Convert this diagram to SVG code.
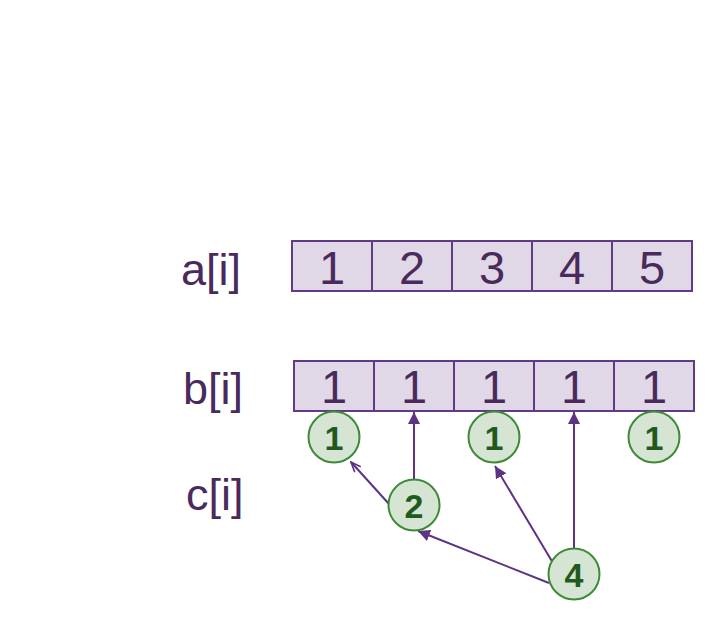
<svg xmlns="http://www.w3.org/2000/svg" width="714" height="620" viewBox="0 0 714 620">
<style>
.cell{fill:#e0d7e7;stroke:#633a86;stroke-width:2}
.lbl{font-family:"Liberation Sans",Arial,sans-serif;font-size:45px;fill:#4a2a5c}
.num{font-family:"Liberation Sans",Arial,sans-serif;font-size:47px;fill:#4a2a5c;text-anchor:middle}
.circ{fill:#d6e4d4;stroke:#3e8a36;stroke-width:2}
.cnum{font-family:"Liberation Sans",Arial,sans-serif;font-size:34px;font-weight:bold;fill:#1f5a1f;text-anchor:middle}
.edge{stroke:#5e3284;stroke-width:2;fill:none}
</style>
<defs>
<marker id="fill" viewBox="0 0 12 12" refX="12" refY="6" markerWidth="12" markerHeight="12" markerUnits="userSpaceOnUse" orient="auto">
<path d="M0,0 L12,6 L0,12 Z" fill="#5e3284"/>
</marker>
<marker id="open" viewBox="0 0 12 10" refX="11" refY="5" markerWidth="12" markerHeight="10" markerUnits="userSpaceOnUse" orient="auto">
<path d="M1,1 L11,5 L1,9" fill="none" stroke="#5e3284" stroke-width="1.6"/>
</marker>
</defs>
<rect width="714" height="620" fill="#ffffff"/>
<g id="labels">
<text class="lbl" x="181" y="285">a[i]</text>
<text class="lbl" x="183" y="404">b[i]</text>
<text class="lbl" x="186" y="510">c[i]</text>
</g>
<g id="array-a">
<rect class="cell" x="292" y="241" width="80" height="50"/>
<rect class="cell" x="372" y="241" width="80" height="50"/>
<rect class="cell" x="452" y="241" width="80" height="50"/>
<rect class="cell" x="532" y="241" width="80" height="50"/>
<rect class="cell" x="612" y="241" width="80" height="50"/>
<text class="num" x="332" y="284">1</text>
<text class="num" x="412" y="284">2</text>
<text class="num" x="492" y="284">3</text>
<text class="num" x="572" y="284">4</text>
<text class="num" x="652" y="284">5</text>
</g>
<g id="array-b">
<rect class="cell" x="294" y="361" width="80" height="50"/>
<rect class="cell" x="374" y="361" width="80" height="50"/>
<rect class="cell" x="454" y="361" width="80" height="50"/>
<rect class="cell" x="534" y="361" width="80" height="50"/>
<rect class="cell" x="614" y="361" width="80" height="50"/>
<text class="num" x="334" y="403">1</text>
<text class="num" x="414" y="403">1</text>
<text class="num" x="494" y="403">1</text>
<text class="num" x="574" y="403">1</text>
<text class="num" x="654" y="403">1</text>
</g>
<g id="connectors">
<line class="edge" x1="414" y1="480" x2="414" y2="412" marker-end="url(#fill)"/>
<line class="edge" x1="574" y1="549" x2="574" y2="412" marker-end="url(#fill)"/>
<line class="edge" x1="389" y1="504" x2="351" y2="462" marker-end="url(#open)"/>
<line class="edge" x1="553" y1="563" x2="495" y2="466" marker-end="url(#fill)"/>
<line class="edge" x1="549" y1="583" x2="418" y2="531" marker-end="url(#fill)"/>
</g>
<g id="c1"><circle class="circ" cx="334" cy="437" r="25.5"/><text class="cnum" x="334" y="450">1</text></g>
<g id="c3"><circle class="circ" cx="494" cy="437" r="25.5"/><text class="cnum" x="494" y="450">1</text></g>
<g id="c5"><circle class="circ" cx="654" cy="437" r="25.5"/><text class="cnum" x="654" y="450">1</text></g>
<g id="c2"><circle class="circ" cx="414" cy="505" r="25.5"/><text class="cnum" x="414" y="518">2</text></g>
<g id="c4"><circle class="circ" cx="574" cy="574" r="25.5"/><text class="cnum" x="574" y="587">4</text></g>
</svg>
